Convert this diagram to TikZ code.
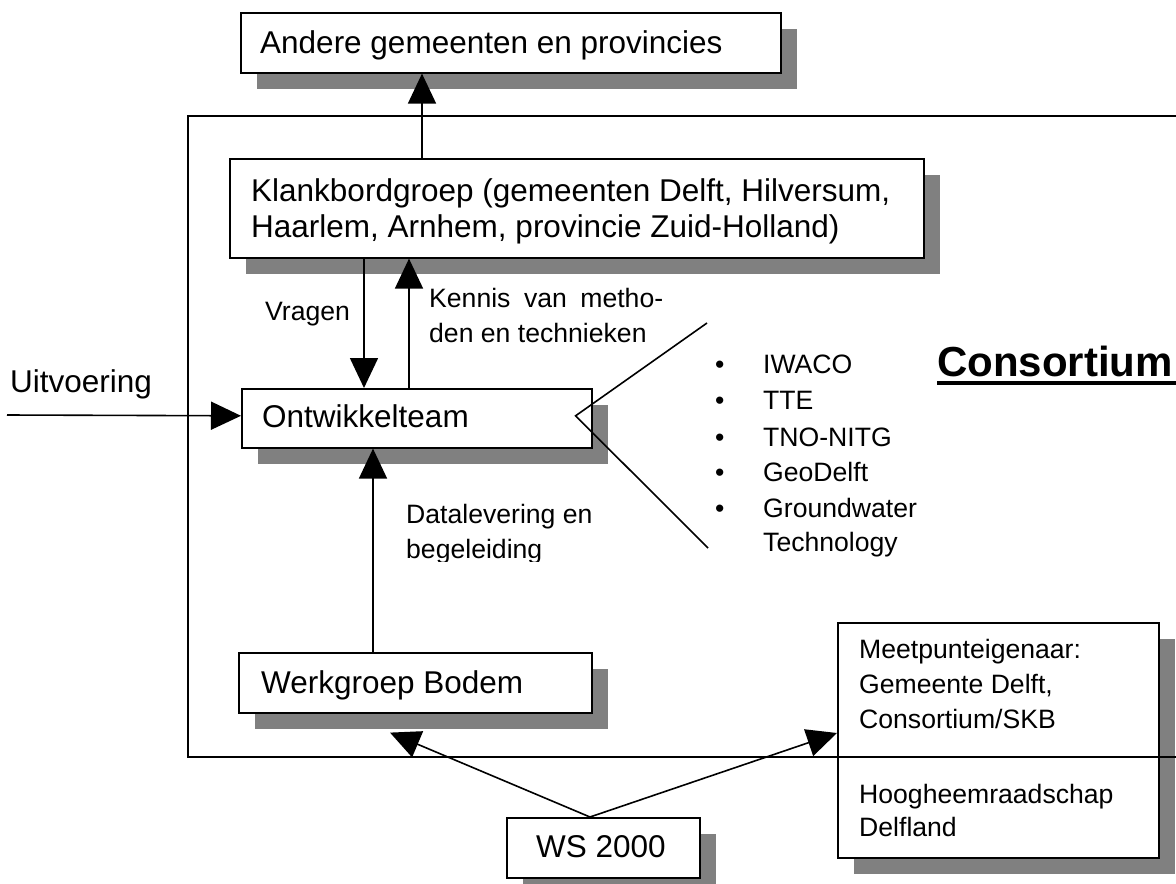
\documentclass[tikz,border=0pt]{standalone}
\usepackage{fontspec}
\setmainfont{Liberation Sans}
\usetikzlibrary{arrows.meta,shadows}
\definecolor{shgray}{RGB}{128,128,128}
\begin{document}
\begin{tikzpicture}[x=1pt,y=-1pt,
  box/.style={draw=black,line width=1.6pt,fill=white,rectangle,inner sep=0pt,anchor=north west,
    drop shadow={shadow xshift=16pt,shadow yshift=-16pt,fill=shgray,opacity=1}},
  big/.style={font=\fontsize{31.5}{35}\selectfont,anchor=base west,inner sep=0pt},
  small/.style={font=\fontsize{26.6}{35}\selectfont,anchor=base west,inner sep=0pt},
  arr/.style={line width=1.6pt,-{Triangle[length=30pt,width=28pt]}},
  ln/.style={line width=1.6pt}]
\useasboundingbox (0,0) rectangle (1176,884);
\clip (0,0) rectangle (1176,884);
\fill[white] (0,0) rectangle (1176,884);

% boxes
\node[box,minimum width=540pt,minimum height=60pt] (andere) at (240,12) {};
\node[box,minimum width=694pt,minimum height=99pt] (klank) at (229,158) {};
\node[box,minimum width=350pt,minimum height=59pt] (ontw) at (241,388) {};
\node[box,minimum width=353pt,minimum height=60pt] (werk) at (238,652) {};
\node[box,minimum width=193pt,minimum height=60pt] (ws) at (506,817) {};
\node[box,minimum width=321pt,minimum height=235pt] (meet) at (837,622) {};

% consortium frame
\draw[ln] (188,116) rectangle (1200,757);

% free ends
\coordinate (uin) at (7,415);
\coordinate (fanup) at (707,323);
\coordinate (fandown) at (708,548);

% connectors
\draw[arr] ([xshift=193pt]klank.north west) -- ([xshift=182pt]andere.south west);
\draw[arr] ([xshift=135pt]klank.south west) -- ([xshift=123pt]ontw.north west);
\draw[arr] ([xshift=168pt]ontw.north west) -- ([xshift=180pt]klank.south west);
\draw[arr] (uin) -- ([yshift=2.5pt]ontw.west);
\draw[arr] ([xshift=135pt]werk.north west) -- ([xshift=132pt]ontw.south west);
\draw[arr] ([xshift=84pt]ws.north west) -- ([shift={(152pt,-19pt)}]werk.south west);
\draw[arr] ([xshift=84pt]ws.north west) -- ([yshift=-111pt]meet.north west);
\draw[ln] (fanup) -- ([shift={(-17pt,2.5pt)}]ontw.east) -- (fandown);

% box texts
\node[big] (tandere) at (260,53) {Andere gemeenten en provincies};
\node[big] (tklank1) at (251,201) {Klankbordgroep (gemeenten Delft, Hilversum,};
\node[big] (tklank2) at (251,237) {Haarlem, Arnhem, provincie Zuid-Holland)};
\node[big] (tontw) at (262,427) {Ontwikkelteam};
\node[big] (twerk) at (261,693) {Werkgroep Bodem};
\node[big] (tws) at (536,857) {WS 2000};
\node[big] (tuit) at (10,392) {Uitvoering};

\node[small] (tm1) at (859,658) {Meetpunteigenaar:};
\node[small] (tm2) at (859,693) {Gemeente Delft,};
\node[small] (tm3) at (859,728) {Consortium/SKB};
\node[small] (tm4) at (859,803) {Hoogheemraadschap};
\node[small] (tm5) at (859,836) {Delfland};

% labels
\node[small] (lvragen) at (265,320) {Vragen};
\node[small] (lkennis1) at (429,307) {\hbox to 234pt{Kennis\hfil van\hfil metho-}};
\node[small] (lkennis2) at (429,342) {den en technieken};
\node[small] (ldata1) at (406,523) {Datalevering en};
\begin{scope}
\clip (380,530) rectangle (700,561);
\node[small] (ldata2) at (406,558) {begeleiding};
\end{scope}

% bullet list
\foreach \yy/\nm/\txt in {373/b1/IWACO,409/b2/TTE,446/b3/TNO-NITG,481/b4/GeoDelft,517/b5/Groundwater}{
  \node[small] (dot\nm) at (715,\yy) {•};
  \node[small] (\nm) at (763,\yy) {\txt};
}
\node[small] (b6) at (763,551) {Technology};

% Consortium title
\node[font=\fontsize{42}{48}\selectfont\bfseries,anchor=base west,inner sep=0pt] (cons) at (937,376) {Consortium};
\draw[line width=4pt] ([yshift=-7pt]cons.base west) -- ([shift={(10pt,-7pt)}]cons.base east);
\end{tikzpicture}
\end{document}
